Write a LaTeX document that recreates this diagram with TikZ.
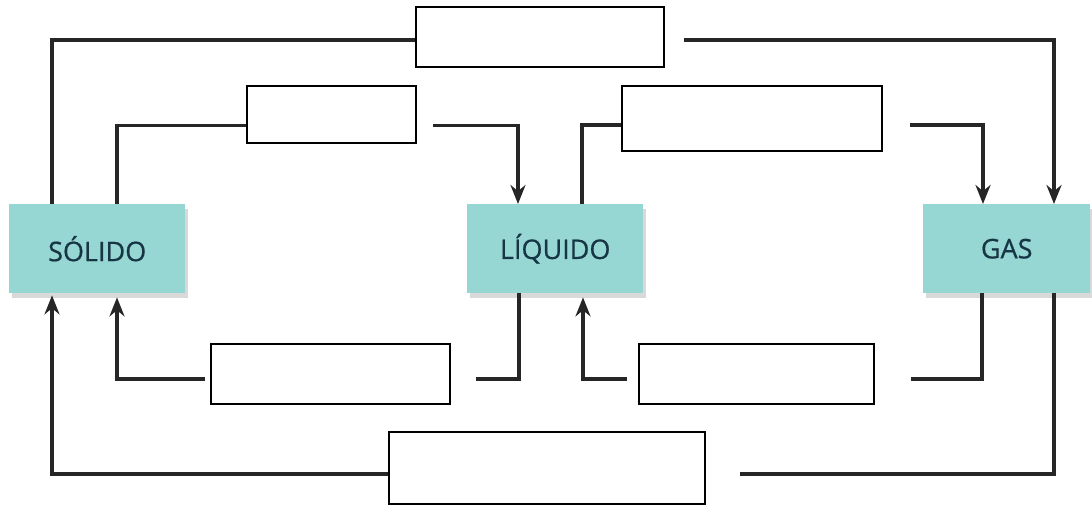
\documentclass[tikz,border=0pt]{standalone}
\usepackage{fontspec}
\setmainfont{Open Sans}
\newfontfamily\statefont{Open Sans}[FakeBold=0.7]
\usetikzlibrary{arrows.meta,shadows,calc}
\definecolor{tealbox}{HTML}{97D7D3}
\definecolor{ink}{HTML}{173645}
\begin{document}
\begin{tikzpicture}[x=1pt,y=-1pt,
 state/.style={fill=tealbox, text=ink, font=\statefont\fontsize{27}{31}\selectfont, anchor=north west, inner sep=0pt,
   minimum height=89pt, drop shadow={opacity=0.3, shadow xshift=3pt, shadow yshift=-5pt}},
 blank/.style={draw=black, line width=2.2pt, fill=white, anchor=north west, inner sep=0pt},
 conn/.style={line width=3.4pt, draw=black!85},
 arr/.style={conn, -{Stealth[length=19pt,width=15pt]}}]
\useasboundingbox (0,0) rectangle (1092,507);
\node[state, minimum width=176pt] (sol) at (9,204) {SÓLIDO};
\node[state, minimum width=176pt] (liq) at (467,204) {LÍQUIDO};
\node[state, minimum width=167pt] (gas) at (923,204) {GAS};
\node[blank, minimum width=248pt, minimum height=60pt] (tb) at (415,6) {};
\node[blank, minimum width=169pt, minimum height=57pt] (ul) at (246,85) {};
\node[blank, minimum width=260pt, minimum height=65pt] (ur) at (621,85) {};
\node[blank, minimum width=239pt, minimum height=60pt] (ll) at (210,343) {};
\node[blank, minimum width=235pt, minimum height=60pt] (lr) at (638,343) {};
\node[blank, minimum width=316pt, minimum height=72pt] (bt) at (388,431) {};
\draw[conn] ($(sol.north west)+(43,0)$) |- ($(tb.west)+(0,3)$);
\draw[arr] ($(tb.east)+(19,3)$) -| ($(gas.north west)+(131,0)$);
\draw[conn] ($(sol.north west)+(108,0)$) |- ($(ul.west)+(0,11)$);
\draw[arr] ($(ul.east)+(16,11)$) -| ($(liq.north west)+(51,0)$);
\draw[conn] ($(liq.north west)+(115,0)$) |- ($(ur.west)+(0,6.5)$);
\draw[arr] ($(ur.east)+(27,6.5)$) -| ($(gas.north west)+(60,0)$);
\draw[conn] ($(liq.south west)+(52,0)$) |- ($(ll.east)+(25,5)$);
\draw[arr] ($(ll.west)+(-5,5)$) -| ($(sol.south west)+(108,4)$);
\draw[conn] ($(gas.south west)+(59,0)$) |- ($(lr.east)+(36,5)$);
\draw[arr] ($(lr.west)+(-11,5)$) -| ($(liq.south west)+(116,4)$);
\draw[conn] ($(gas.south west)+(131,0)$) |- ($(bt.east)+(34,6)$);
\draw[arr] ($(bt.west)+(0,6)$) -| ($(sol.south west)+(43,2)$);
\end{tikzpicture}
\end{document}
